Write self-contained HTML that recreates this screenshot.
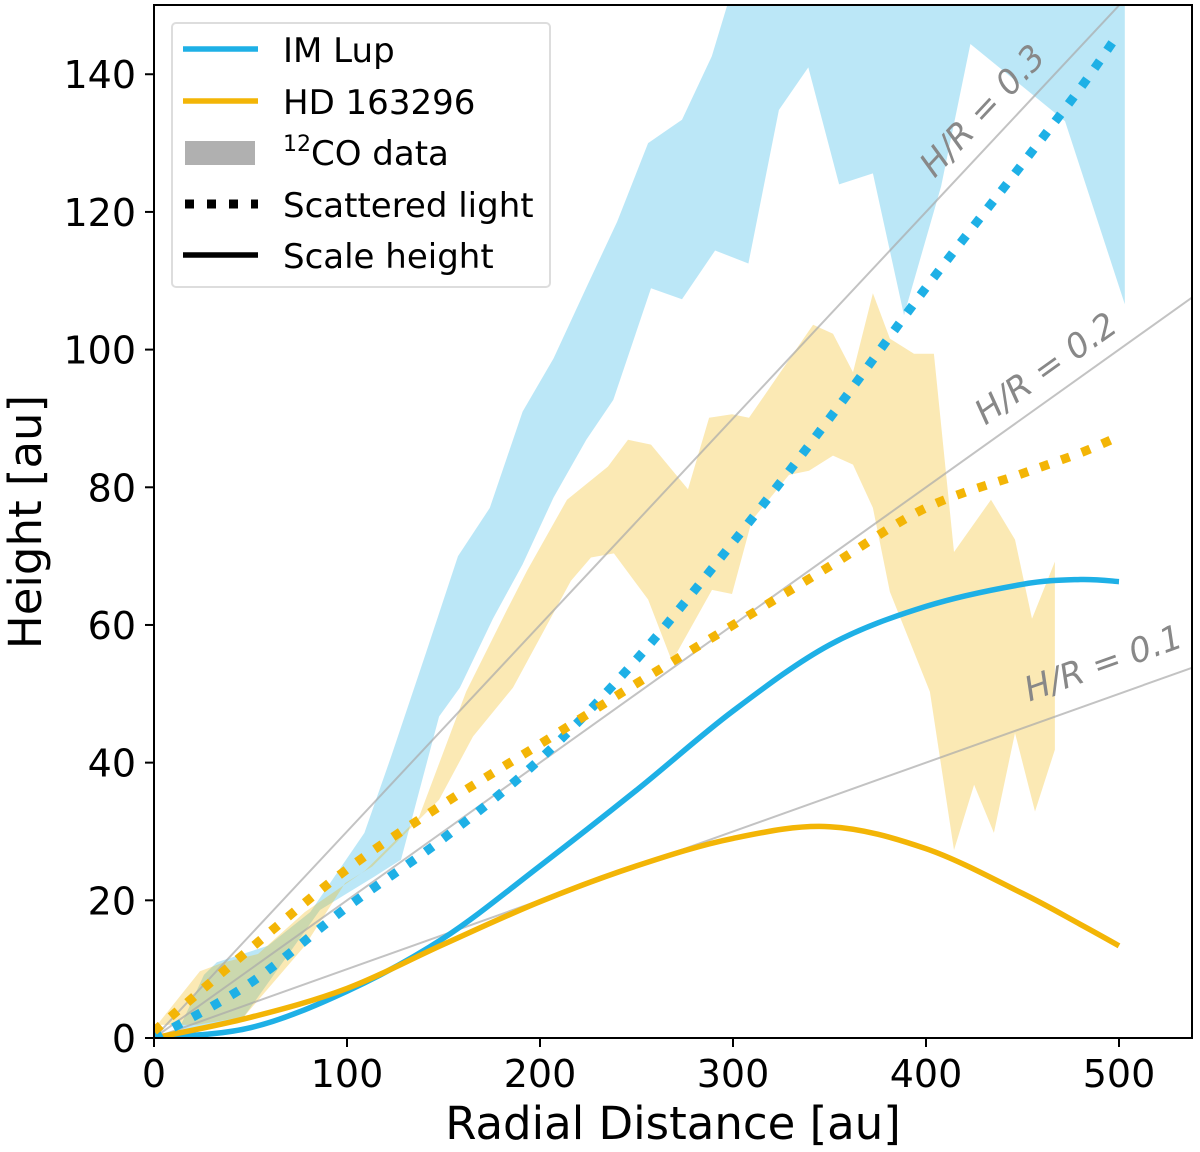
<!DOCTYPE html>
<html><head><meta charset="utf-8"><style>
html,body{margin:0;padding:0;background:#fff;}
svg{display:block;font-family:"DejaVu Sans","Liberation Sans",sans-serif;}
</style></head><body>
<svg id="chart" width="1200" height="1152" viewBox="0 0 1200 1152" xmlns="http://www.w3.org/2000/svg">
<defs><clipPath id="plotclip"><rect x="154" y="5" width="1038" height="1033"/></clipPath></defs>
<g id="plot" clip-path="url(#plotclip)"></g>
<g id="axes"></g>
</svg>
<script>
// ---- data ----
const xTicks = [0,100,200,300,400,500];
const yTicks = [0,20,40,60,80,100,120,140];
const imLupBandR_upper = [25.9,32.6,59,81,109,123,141,157.5,174,191,207,224,240,256,273.6,289,297,320,503];
const imLupBandH_upper = [9.2,11.0,13.4,18.3,29.8,41,56,70,77,91,98.7,109,118.6,130,133.4,142.6,150,160,160];
const imLupBandR_lower = [12,29,46.6,60.6,86,114.5,128,147.7,158.5,175.6,191,207,224,238,257.5,273.6,290.7,308,323.8,339,355,372.5,388.6,407.8,423,472,503];
const imLupBandH_lower = [0.7,1.6,3.1,8.6,18.6,23.5,25.9,46.7,50.9,60.9,68.8,78.5,86.9,92.7,108.9,107.3,114.4,112.5,134.8,141,124,125.6,105,123.7,144.4,133.2,106.6];
const hdBandR_upper = [1.6,23.8,36.3,53.9,78.2,109.3,137.3,161.7,182.9,193.3,214,235.2,245.6,257.5,276.7,287.6,299.5,308.3,341.5,351.8,362.2,372.5,381.3,393.8,404.1,414.5,433.7,446.1,454.9,466.8];
const hdBandH_upper = [1.9,9.7,11.0,12.2,18.3,24.3,32.1,50.3,62.2,67.9,78.2,83.0,86.9,86.2,79.7,90.1,90.6,90.1,103.6,102.3,96.7,108.2,101.6,99.4,99.4,70.6,78.2,72.4,60.9,69.2];
const hdBandR_lower = [1.6,22.3,46.6,78.2,99,113,147.7,165.3,186,216,226.4,238.3,256,268.4,289.1,299.5,309.8,329,339.4,351.8,362.2,372.5,381.3,402,414.5,424.9,435.2,446.1,456.5,466.8];
const hdBandH_lower = [1.9,1.9,3.1,13.4,22.5,24.9,34.6,43.8,50.9,66.4,69.8,70.4,63.7,54.7,65.1,64.5,75.2,81.8,82.4,84.6,83.3,77.0,64.8,50.3,27.3,36.8,29.8,44.3,32.9,41.9];
const curveR = [0,50,100,150,200,250,300,350,400,450,480,500];
const imLupScatH = [0,8,19,29,40.5,55,72,90,109,127,138,146];
const hdScatH = [1,13,24.5,34,42.7,51.5,60,68.5,77,82,85,87.4];
const imLupScaleH = [0,1.5,6.8,14.5,25,36,47.5,57.1,62.7,65.9,66.6,66.3];
const hdScaleH = [0,3,7.2,13.6,19.8,25,29,30.7,27.5,21,16.5,13.4];
const hrRatios = [0.1,0.2,0.3];

// ---- scales ----
const X0=154, X1=1192, Y0=1038, Y1=5;
const xMax = (X1-X0)/1.93, yMax = (Y0-Y1)/6.884;
const sx = r => X0 + r*(X1-X0)/xMax;
const sy = h => Y0 - h*(Y0-Y1)/yMax;
const NS="http://www.w3.org/2000/svg";
const plot=document.getElementById('plot'), axes=document.getElementById('axes');
function mk(tag, attrs, parent){const e=document.createElementNS(NS,tag);for(const k in attrs)e.setAttribute(k,attrs[k]);parent.appendChild(e);return e;}
function pts(R,H){return R.map((r,i)=>sx(r).toFixed(1)+','+sy(H[i]).toFixed(1));}
function smooth(R,H){
  const P=R.map((r,i)=>[sx(r),sy(H[i])]);
  let d='M'+P[0][0].toFixed(1)+','+P[0][1].toFixed(1);
  for(let i=0;i<P.length-1;i++){
    const p0=P[Math.max(0,i-1)],p1=P[i],p2=P[i+1],p3=P[Math.min(P.length-1,i+2)];
    const c1=[p1[0]+(p2[0]-p0[0])/6,p1[1]+(p2[1]-p0[1])/6];
    const c2=[p2[0]-(p3[0]-p1[0])/6,p2[1]-(p3[1]-p1[1])/6];
    d+=` C${c1[0].toFixed(1)},${c1[1].toFixed(1)} ${c2[0].toFixed(1)},${c2[1].toFixed(1)} ${p2[0].toFixed(1)},${p2[1].toFixed(1)}`;
  }
  return d;
}

const BLUE='#1eb0e6', ORANGE='#f3b506';
let e=mk('polygon',{points:pts(imLupBandR_upper,imLupBandH_upper).concat(pts(imLupBandR_lower,imLupBandH_lower).reverse()).join(' '),fill:BLUE,'fill-opacity':0.3},plot);


e=mk('polygon',{points:pts(hdBandR_upper,hdBandH_upper).concat(pts(hdBandR_lower,hdBandH_lower).reverse()).join(' '),fill:ORANGE,'fill-opacity':0.3},plot);


hrRatios.forEach(q=>{
  const l=mk('line',{x1:sx(0),y1:sy(0),x2:sx(xMax),y2:sy(q*xMax),stroke:'#aaa','stroke-opacity':0.7,'stroke-width':2},plot);
  
  
});
function curve(H,color,dotted,name){
  const p=mk('path',{d:smooth(curveR,H),fill:'none',stroke:color,'stroke-width':dotted?9:5.5,'stroke-linejoin':'round'},plot);
  if(dotted)p.setAttribute('stroke-dasharray','9 13');
  
  
}
curve(imLupScaleH,BLUE,false,'im-lup-scale-height');
curve(hdScaleH,ORANGE,false,'hd163296-scale-height');
curve(imLupScatH,BLUE,true,'im-lup-scattered-light');
curve(hdScatH,ORANGE,true,'hd163296-scattered-light');
const hrLabelPos=[[1104,665,0.1],[1047,370,0.2],[984,112,0.3]];
hrLabelPos.forEach(([x,y,q])=>{
  const ang=-Math.atan(q*6.884/1.93)*180/Math.PI;
  const t=mk('text',{x:x,y:y,'text-anchor':'middle','dominant-baseline':'middle','font-size':34,'font-style':'italic',fill:'#888',transform:`rotate(${ang} ${x} ${y})`},axes);
  t.textContent='H/R = '+q;
  
  
});
e=mk('rect',{x:X0,y:Y1,width:X1-X0,height:Y0-Y1,fill:'none',stroke:'#000','stroke-width':2},axes);


xTicks.forEach(v=>{
  mk('line',{x1:sx(v),y1:Y0,x2:sx(v),y2:Y0+9,stroke:'#000','stroke-width':2},axes);
  const t=mk('text',{x:sx(v),y:Y0+49,'text-anchor':'middle','font-size':38,fill:'#000'},axes);
  t.textContent=v;
  
  
});
yTicks.forEach(v=>{
  mk('line',{x1:X0-9,y1:sy(v),x2:X0,y2:sy(v),stroke:'#000','stroke-width':2},axes);
  const t=mk('text',{x:X0-18,y:sy(v)+14,'text-anchor':'end','font-size':38,fill:'#000'},axes);
  t.textContent=v;
  
  
});
</script>
<svg style="position:absolute;left:0;top:0" width="1200" height="1152">
<text x="673" y="1139" text-anchor="middle" font-size="45" font-family="DejaVu Sans, Liberation Sans, sans-serif">Radial Distance [au]</text>
<text x="0" y="0" transform="translate(41 522) rotate(-90)" text-anchor="middle" font-size="45" font-family="DejaVu Sans, Liberation Sans, sans-serif">Height [au]</text>
<g font-family="DejaVu Sans, Liberation Sans, sans-serif" font-size="34">
<rect x="172" y="23" width="378" height="264" rx="4" fill="#fff" fill-opacity="0.85" stroke="#ddd" stroke-width="2"/>
<g><line x1="183" y1="49" x2="258" y2="49" stroke="#1eb0e6" stroke-width="5.5"/><text x="283" y="62">IM Lup</text></g>
<g><line x1="183" y1="101" x2="258" y2="101" stroke="#f3b506" stroke-width="5.5"/><text x="283" y="114">HD 163296</text></g>
<g><rect x="185" y="141" width="70" height="24" fill="#b0b0b0"/><text x="283" y="165"><tspan font-size="22" dy="-14">12</tspan><tspan dy="14">CO data</tspan></text></g>
<g><line x1="185" y1="204" x2="258" y2="204" stroke="#000" stroke-width="9" stroke-dasharray="9 13"/><text x="283" y="217">Scattered light</text></g>
<g><line x1="183" y1="255" x2="258" y2="255" stroke="#000" stroke-width="5.5"/><text x="283" y="268">Scale height</text></g>
</g>
</svg>
</body></html>
